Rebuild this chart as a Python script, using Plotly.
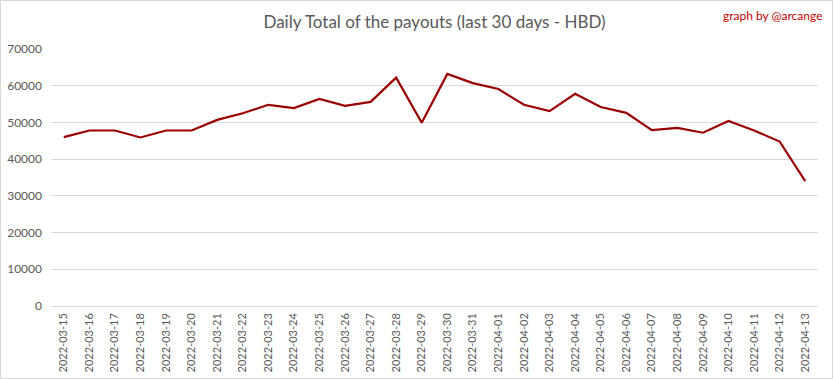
import plotly.graph_objects as go

dates = ["2022-03-15", "2022-03-16", "2022-03-17", "2022-03-18", "2022-03-19", "2022-03-20",
         "2022-03-21", "2022-03-22", "2022-03-23", "2022-03-24", "2022-03-25", "2022-03-26",
         "2022-03-27", "2022-03-28", "2022-03-29", "2022-03-30", "2022-03-31", "2022-04-01",
         "2022-04-02", "2022-04-03", "2022-04-04", "2022-04-05", "2022-04-06", "2022-04-07",
         "2022-04-08", "2022-04-09", "2022-04-10", "2022-04-11", "2022-04-12", "2022-04-13"]
payouts = [46000, 47800, 47800, 45900, 47800, 47800,
           50700, 52500, 54800, 53900, 56400, 54500,
           55600, 62200, 49900, 63200, 60700, 59100,
           54800, 53100, 57800, 54200, 52600, 47900,
           48500, 47200, 50400, 47800, 44800, 34000]
y_ticks = [0, 10000, 20000, 30000, 40000, 50000, 60000, 70000]
y_tick_labels = [str(v) for v in y_ticks]

W, H = 833, 379
ML, MR, MT, MB = 51, 15, 49, 73

fig = go.Figure(go.Scatter(
    x=dates, y=payouts, mode="lines",
    line=dict(color="#9b0000", width=2.2),
))

fig.update_layout(
    width=W, height=H,
    margin=dict(l=ML, r=MR, t=MT, b=MB, autoexpand=False),
    paper_bgcolor="white", plot_bgcolor="white",
    showlegend=False,
    font=dict(family="Lato, Open Sans, sans-serif", color="#595959", size=12),
    title=dict(text="Daily Total of the payouts (last 30 days - HBD)",
               x=0.5, xanchor="center", xref="paper", y=1 - 22 / H, yanchor="middle",
               font=dict(size=17, color="#595959", family="Lato, sans-serif")),
    xaxis=dict(type="category", range=[-0.5, len(dates) - 0.5], tickangle=-90,
               showgrid=False, showline=False, ticks="",
               tickfont=dict(size=11, color="#595959"), ticklabelstandoff=4),
    yaxis=dict(range=[0, 70000], tickvals=y_ticks, ticktext=y_tick_labels,
               showgrid=True, gridcolor="#d9d9d9",
               gridwidth=1, zeroline=True, zerolinecolor="#d9d9d9", zerolinewidth=1,
               ticks="", tickfont=dict(size=12, color="#595959"), ticklabelstandoff=8),
    annotations=[dict(text="graph by @arcange", xref="paper", yref="paper",
                      x=(W - ML - 8) / (W - ML - MR), y=1 + (MT - 15) / (H - MT - MB),
                      xanchor="right", yanchor="middle", showarrow=False,
                      font=dict(size=12, color="#c00000", family="Lato, sans-serif"))],
    shapes=[dict(type="rect", xref="paper", yref="paper",
                 x0=-(ML - 0.5) / (W - ML - MR), x1=1 + (MR - 0.5) / (W - ML - MR),
                 y0=-(MB - 0.5) / (H - MT - MB), y1=1 + (MT - 0.5) / (H - MT - MB),
                 line=dict(color="#d9d9d9", width=1), layer="below")],
)

fig.write_html("out.html", config={"displayModeBar": False},
               post_script="document.body.style.margin='0px';document.body.style.overflow='hidden';")
